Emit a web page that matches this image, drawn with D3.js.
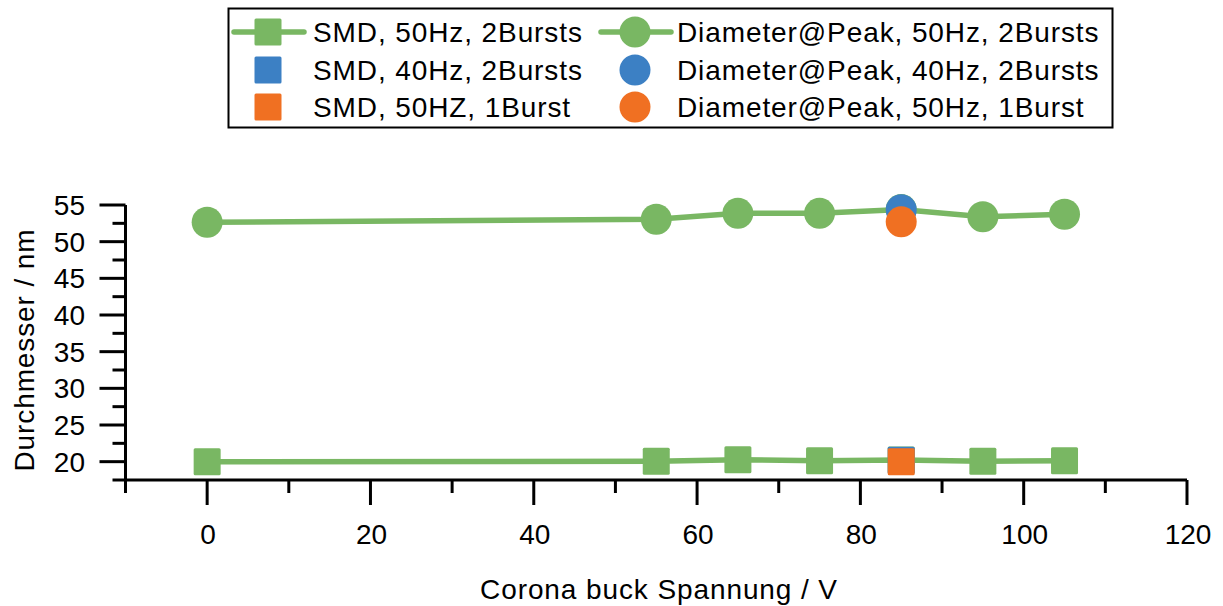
<!DOCTYPE html>
<html>
<head>
<meta charset="utf-8">
<script src="https://cdn.jsdelivr.net/npm/d3@7"></script>
<style>
  html, body { margin: 0; padding: 0; background: #fff; }
  svg { display: block; font-family: "Liberation Sans", Arial, sans-serif; }
</style>
</head>
<body>
<svg id="chart" width="1223" height="606"></svg>
<script>
// Corona buck voltage (V)
const voltages = [0, 55, 65, 75, 85, 95, 105];
// SMD and peak diameter at 50 Hz, 2 bursts (nm)
const smd50Hz2B = [20.0, 20.05, 20.27, 20.14, 20.23, 20.04, 20.14];
const peak50Hz2B = [52.65, 53.05, 53.86, 53.86, 54.4, 53.4, 53.73];
// Single measurements at 85 V
const singleVoltage = [85];
const smd40Hz2B = [20.2];
const peak40Hz2B = [54.35];
const smd50Hz1B = [20.0];
const peak50Hz1B = [52.7];

const xTicks = [0, 20, 40, 60, 80, 100, 120];
const yTicks = [20, 25, 30, 35, 40, 45, 50, 55];

const legendItems = [
  { label: "SMD, 50Hz, 2Bursts", shape: "square", color: "#79b763", line: true },
  { label: "Diameter@Peak, 50Hz, 2Bursts", shape: "circle", color: "#79b763", line: true },
  { label: "SMD, 40Hz, 2Bursts", shape: "square", color: "#3c80c4", line: false },
  { label: "Diameter@Peak, 40Hz, 2Bursts", shape: "circle", color: "#3c80c4", line: false },
  { label: "SMD, 50HZ, 1Burst", shape: "square", color: "#f07022", line: false },
  { label: "Diameter@Peak, 50Hz, 1Burst", shape: "circle", color: "#f07022", line: false }
];

const GREEN = "#79b763", BLUE = "#3c80c4", ORANGE = "#f07022";
const svg = d3.select("#chart");

const x = d3.scaleLinear().domain([-10, 120]).range([125.5, 1187]);
const y = d3.scaleLinear().domain([17.5, 55]).range([480, 205]);

const SQ = 27, R = 15.5;
const FONT = 28, SPACING = "0.9px";

// Axes
const axisColor = "#000";
const gx = svg.append("g");
gx.append("line").attr("x1", x(-10)).attr("x2", x(120)).attr("y1", y(17.5)).attr("y2", y(17.5))
  .attr("stroke", axisColor).attr("stroke-width", 3);
d3.range(-10, 121, 10).forEach(v => {
  const major = v % 20 === 0;
  gx.append("line").attr("x1", x(v)).attr("x2", x(v)).attr("y1", y(17.5)).attr("y2", y(17.5) + (major ? 25 : 13))
    .attr("stroke", axisColor).attr("stroke-width", 3);
});
gx.selectAll("text.xt").data(xTicks).join("text").attr("class", "xt")
  .attr("x", d => x(d) + 1).attr("y", 544).attr("text-anchor", "middle")
  .attr("font-size", FONT).text(d => d);

const gy = svg.append("g");
gy.append("line").attr("x1", x(-10)).attr("x2", x(-10)).attr("y1", y(17.5)).attr("y2", y(55))
  .attr("stroke", axisColor).attr("stroke-width", 3);
d3.range(17.5, 55.01, 2.5).forEach(v => {
  const major = Math.abs(v % 5) < 1e-6;
  gy.append("line").attr("x1", x(-10) - (major ? 26 : 13)).attr("x2", x(-10)).attr("y1", y(v)).attr("y2", y(v))
    .attr("stroke", axisColor).attr("stroke-width", 3);
});
gy.selectAll("text.yt").data(yTicks).join("text").attr("class", "yt")
  .attr("x", 85).attr("y", d => y(d) + 10).attr("text-anchor", "end")
  .attr("font-size", FONT).text(d => d);

svg.append("text").attr("x", 659).attr("y", 599).attr("text-anchor", "middle")
  .attr("font-size", FONT).attr("letter-spacing", SPACING).text("Corona buck Spannung / V");
svg.append("text").attr("transform", "translate(34,350) rotate(-90)").attr("text-anchor", "middle")
  .attr("font-size", FONT).attr("letter-spacing", SPACING).text("Durchmesser / nm");

// Series
const line = d3.line().x(d => x(d[0])).y(d => y(d[1]));
function drawSquares(xs, ys, color) {
  svg.append("g").selectAll("rect").data(d3.zip(xs, ys)).join("rect")
    .attr("x", d => x(d[0]) - SQ / 2).attr("y", d => y(d[1]) - SQ / 2)
    .attr("width", SQ).attr("height", SQ).attr("rx", 1.5).attr("fill", color);
}
function drawCircles(xs, ys, color) {
  svg.append("g").selectAll("circle").data(d3.zip(xs, ys)).join("circle")
    .attr("cx", d => x(d[0])).attr("cy", d => y(d[1])).attr("r", R).attr("fill", color);
}

svg.append("path").datum(d3.zip(voltages, smd50Hz2B)).attr("d", line)
  .attr("fill", "none").attr("stroke", GREEN).attr("stroke-width", 5.5);
drawSquares(voltages, smd50Hz2B, GREEN);
svg.append("path").datum(d3.zip(voltages, peak50Hz2B)).attr("d", line)
  .attr("fill", "none").attr("stroke", GREEN).attr("stroke-width", 5.5);
drawCircles(voltages, peak50Hz2B, GREEN);

drawSquares(singleVoltage, smd40Hz2B, BLUE);
drawCircles(singleVoltage, peak40Hz2B, BLUE);
drawSquares(singleVoltage, smd50Hz1B, ORANGE);
drawCircles(singleVoltage, peak50Hz1B, ORANGE);

// Legend
const lg = svg.append("g");
lg.append("rect").attr("x", 228.5).attr("y", 8.5).attr("width", 884).attr("height", 119)
  .attr("fill", "#fff").attr("stroke", "#000").attr("stroke-width", 2);
const colX = [268, 635], textX = [313, 677], rowY = [32, 70, 107];
legendItems.forEach((it, i) => {
  const c = i % 2, r = Math.floor(i / 2);
  const cx = colX[c], cy = rowY[r];
  if (it.line) {
    lg.append("line").attr("x1", cx - 34).attr("x2", cx + 36).attr("y1", cy).attr("y2", cy)
      .attr("stroke", it.color).attr("stroke-width", 5.5).attr("stroke-linecap", "round");
  }
  if (it.shape === "square") {
    lg.append("rect").attr("x", cx - SQ / 2).attr("y", cy - SQ / 2).attr("width", SQ).attr("height", SQ)
      .attr("rx", 1.5).attr("fill", it.color);
  } else {
    lg.append("circle").attr("cx", cx).attr("cy", cy).attr("r", R).attr("fill", it.color);
  }
  lg.append("text").attr("x", textX[c]).attr("y", cy + 10).attr("font-size", FONT)
    .attr("letter-spacing", SPACING).text(it.label);
});
</script>
</body>
</html>
